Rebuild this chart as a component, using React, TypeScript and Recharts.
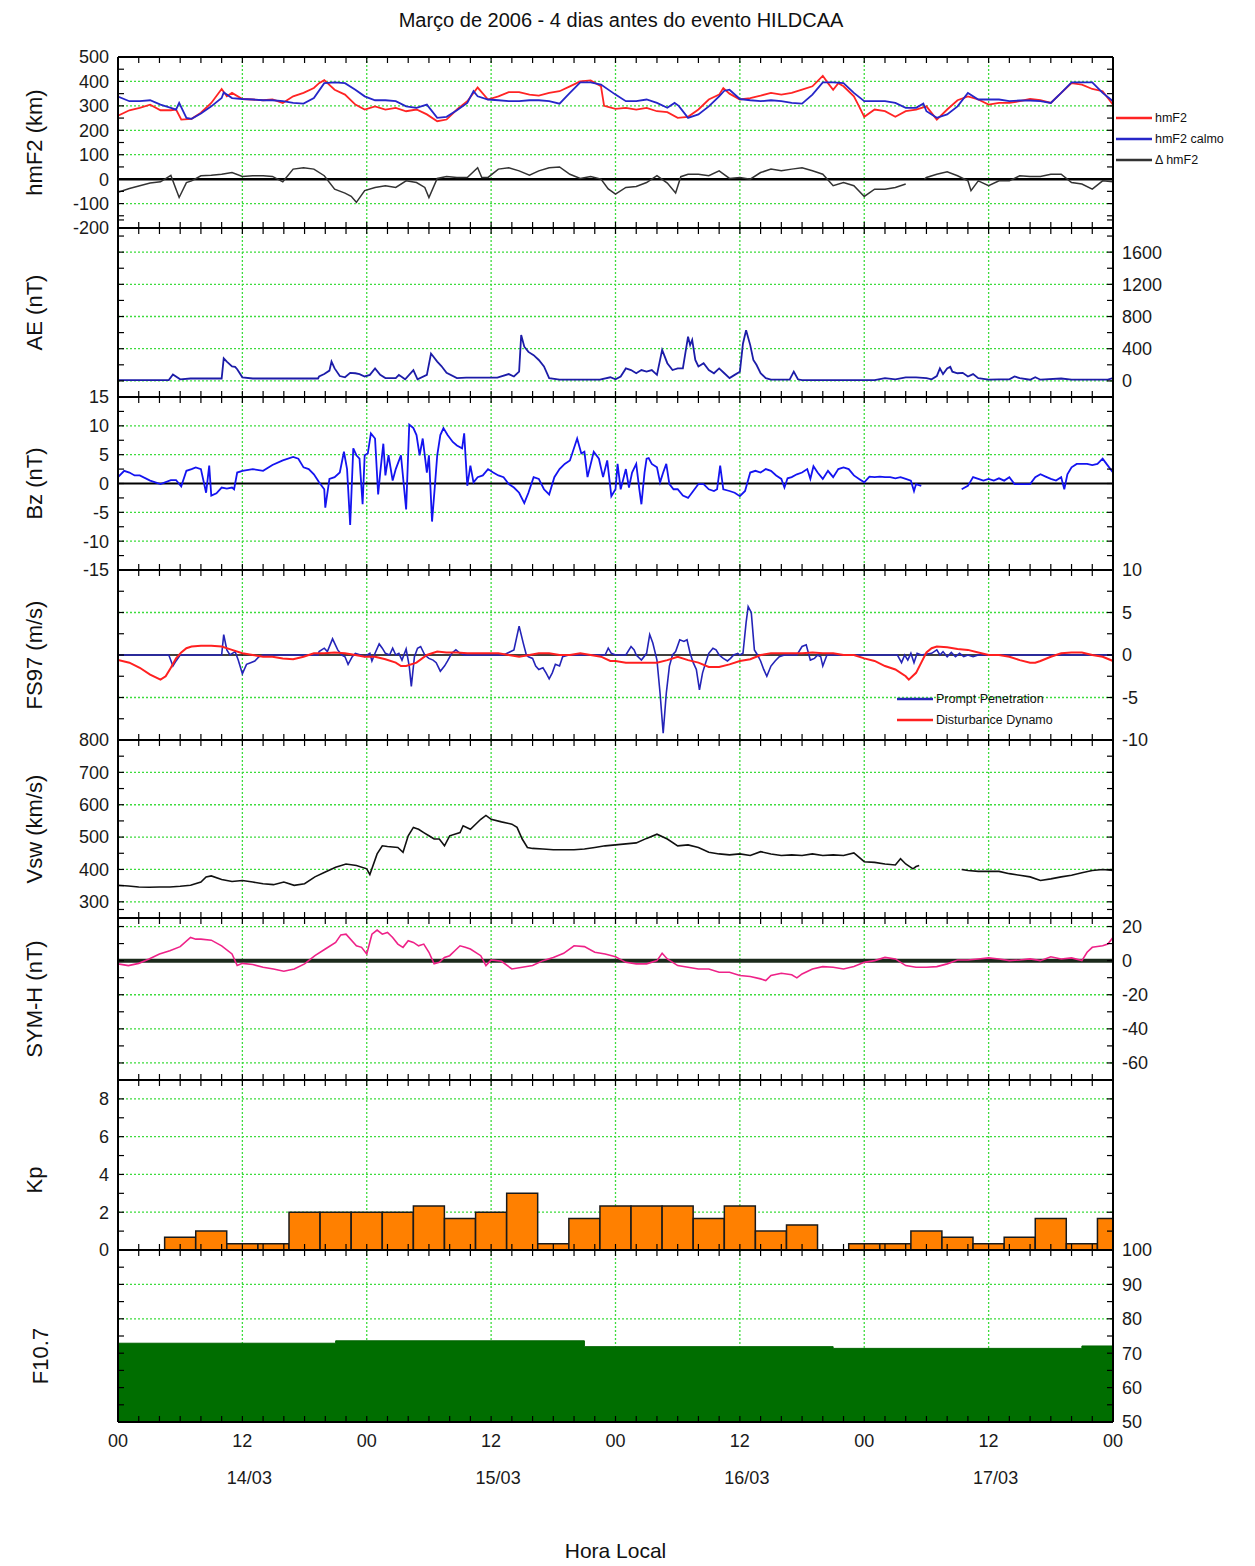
import React from "react";
import {
  ComposedChart,
  Line,
  Bar,
  Area,
  XAxis,
  YAxis,
  CartesianGrid,
  ReferenceLine,
  Legend,
} from "recharts";

const FONT = "'Liberation Sans', Arial, Helvetica, sans-serif";
const GRID_GREEN = "#3ddc3d";
const PAD = 12;
const WIDTH = 1255;

const range = (from: number, to: number, step: number) =>
  Array.from({ length: Math.round((to - from) / step) + 1 }, (_, i) =>
    +(from + i * step).toFixed(2)
  );

const zip = (hours: number[], values: (number | null)[]) =>
  hours.map((t, i) => ({ t, v: values[i] }));

// time axis (hours since 14/03 00 LT)
const HOUR_TICKS = range(0, 96, 2);
const GRID_HOURS = [12, 24, 36, 48, 60, 72, 84];
const DATE_TICKS = [12, 36, 60, 84];
const DATE_LABELS = ["14/03", "15/03", "16/03", "17/03"];

// hmF2
const hmf2Hours = [0,1.1,2.1,3.1,4.1,5.1,5.6,6.1,7.1,8, 9,10,10.5,11,12,13,14,14.9,15.9,16.9, 17.9,18.9,19.4,19.9,20.9,21.9,22.9,23.8,24.8,25.8, 26.8,27.8,28.8,29.8,30.8,31.7,32.7,33.7,34.7,35.7, 36.7,37.7,38.7,39.7,40.6,41.6,42.6,43.6,44.6,45.6, 46.6,46.9,48,49,50,51,52,53,54,55, 56,57,58,58.4,59,60,61,62,63,64, 65,66,67,68,68.5,69,69.5,70,71,71.5, 72,73,74,75,76,77,78,79,80,81, 82,83,84,85,86,87,88,89,90,91, 92,93,94,95,96];
const hmf2Values = [260,282,292,305,282,282,285,244,247,272, 312,369,339,353,328,326,323,326,312,339, 353,373,393,405,366,346,305,285,298,285, 292,278,285,265,237,244,285,319,375,326, 339,356,356,346,342,353,360,380,400,404, 380,300,288,292,285,292,278,274,251,255, 285,326,346,373,350,326,332,342,353,346, 353,366,380,423,393,366,393,380,339,298, 255,285,278,255,278,285,298,244,285,323, 339,326,305,312,312,319,328,323,312,353, 393,387,369,360,305];

const calmoHours = [0,1.1,2.1,3.1,4.1,5.1,5.6,5.9,6.6,7.1, 8,9,10,10.2,11,12,13,14,14.9,15.9, 16.9,17.9,18.9,19.9,20.9,21.9,22.9,23.8,24.8,25.8, 26.8,27.8,28.8,29.8,30.8,31.7,32.7,33.7,34.3,34.7, 35.7,36.7,37.7,38.7,39.7,40.6,41.6,42.6,43.6,44.6, 45.6,46.6,48,49,50,51,52,53,53.7,54.1, 55,56,57,58,58.5,59,60,61,62,63, 64,65,66,67,68,69,70,71,72,73, 74,75,76,77,77.7,78,79,80,81,82, 83,84,85,86,87,88,89,90,91,92, 93,94,95,96];
const calmoValues = [338,319,319,323,305,292,285,312,251,247, 269,298,332,355,332,328,326,323,323,319, 312,309,332,393,396,393,366,339,323,323, 319,298,292,305,251,255,282,312,360,339, 326,323,319,319,323,323,319,309,353,396, 396,387,346,319,319,326,312,292,312,300, 251,265,298,339,362,366,328,323,319,323, 319,312,309,346,396,396,393,353,319,319, 319,312,292,292,309,278,251,265,298,353, 326,326,326,319,322,322,319,312,353,396, 396,396,353,319];

const deltaHours = [0,1.1,2.1,3.1,4.1,5.1,5.6,5.9,6.6,7.1, 8,9,10,11,12,13,14,14.9,15.9,16.9, 17.9,18.9,19.9,20.9,21.9,22.5,23,23.8,24.8,25.8, 26.8,27.8,28.8,29.6,30,30.8,31.7,32.7,33.7,34.7, 35.1,35.7,36.7,37.7,38.7,39.7,40.6,41.6,42.6,43.6, 44.6,45.6,46.6,47.3,48,49,50,51,52,53, 53.8,54.3,55,56,57,58,59,60,61,62, 63,64,65,66,67,68,69,70,71,72, 73,74,75,76,77,77.8,78,79,80,81, 82,82.3,83,84,85,86,87,88,89,90, 91,92,93,94,95,96];
const deltaValues = [-54,-38,-27,-16,-11,15,-41,-75,-14,-7, 14,16,20,27,11,14,14,11,-11,41, 47,41,14,-41,-57,-70,-95,-47,-34,-27, -34,-7,-14,-34,-75,3,11,7,7,47, 7,7,41,47,34,16,34,47,50,20, 3,11,0,-40,-61,-34,-30,-14,14,-16, -57,10,20,20,14,34,3,7,0,27, 41,34,41,47,34,20,-27,-14,-27,-71, -41,-41,-34,-20,null,0,7,20,30,14, -7,-47,-7,-27,-7,-7,14,11,11,20, 20,-14,-20,-41,-7,-11];

// AE
const aeHours = [0,4.9,5.3,6,7,10,10.2,10.5,11,11.3, 11.5,12,13,19.3,19.4,19.9,20.4,20.6,20.9,21.4, 21.9,22.4,22.9,23.3,23.8,24.3,24.8,25.3,25.8,26.8, 27.1,27.7,28.5,28.9,29.8,30.2,30.8,31.2,31.7,32.7, 33.6,36.6,37.7,38.2,38.7,38.9,39.2,39.6,40.1,40.6, 41.1,41.6,42.6,46.5,47.5,48,48.5,49,49.5,50, 50.5,51,51.5,52,52.5,53,53.5,54,54.5,55, 55.2,55.4,55.7,56,56.5,57,57.5,58,58.5,59, 59.5,60,60.3,60.6,61,61.3,61.6,62,62.5,63, 64.8,65.2,65.6,66,73,74,75,76,77,78, 78.5,79,79.3,79.6,80,80.3,80.5,81,81.5,82, 82.5,83,84,85,86,86.5,87,88,88.5,89, 91,92,95.5,96];
const aeValues = [10,10,80,20,30,30,280,240,180,175, 145,45,30,30,55,85,128,240,155,60, 45,100,95,85,55,75,155,75,35,35, 75,20,135,20,75,340,240,185,100,35, 40,40,85,55,115,570,425,360,320,260, 180,35,15,15,45,20,55,155,135,95, 135,115,135,75,385,220,135,155,155,550, 445,510,260,180,220,135,95,155,95,35, 75,115,465,630,445,260,200,95,35,15, 15,115,20,10,10,35,20,45,45,35, 20,60,155,85,155,175,115,95,100,55, 85,35,15,20,20,55,35,15,45,15, 30,15,15,35];

// Bz
const bzHours = [0,0.6,1.1,1.6,2.1,3.1,4.1,5.1,5.6,6.1, 6.6,7.1,7.5,8,8.5,8.8,9,9.5,10,10.5, 11,11.2,11.5,12,13,14,14.9,15.9,16.9,17.4, 17.9,18.4,18.9,19.4,19.9,20,20.4,20.9,21.4,21.8, 22.1,22.4,22.7,23,23.3,23.6,23.8,24.1,24.4,24.8, 25.1,25.3,25.6,25.8,26.1,26.5,26.8,27.3,27.8,28.1, 28.5,28.8,29.1,29.4,29.8,30,30.3,30.6,30.8,31.1, 31.4,31.8,32.3,32.7,33.2,33.4,33.7,34,34.3,34.7, 35.2,35.7,36.2,36.7,37.2,37.7,38.2,38.7,39.2,39.6, 40.1,40.6,41.1,41.6,42.1,42.6,43.1,43.6,44.3,44.7, 45,45.3,45.9,46.4,46.8,47.2,47.6,48,48.2,48.5, 49,49.3,49.6,50,50.3,50.5,50.8,51,51.2,51.5, 52,52.3,52.6,52.9,53.2,53.6,54,54.5,55,55.5, 56,56.5,57,57.5,57.8,58.1,58.4,59,59.5,60, 60.5,61,61.5,62,62.5,63,63.5,64,64.3,64.6, 65,65.5,66,66.5,66.8,67.1,67.5,68,68.5,69, 69.5,70,70.5,71,71.5,72,72.5,73,73.5,74, 74.5,75,75.5,76,76.5,76.8,77,77.5,77.7,81.4, 81.7,82,82.2,82.5,83,83.5,84,84.5,85,85.5, 86,86.5,87,87.5,88,88.5,89,89.5,90,90.5, 91,91.3,91.6,92,92.5,93,93.5,94,94.5,95, 95.5,96];
const bzValues = [1.1,2.2,1.9,1.4,1.4,0.5,-0.1,0.6,0.6,-0.5, 2.2,2.5,2.8,2.5,-1.6,3.1,-2.1,-1.7,-0.7,-0.9, -0.7,-1,1.9,2.2,2.5,2.2,3.2,4,4.6,4.3, 2.8,2.5,1.6,0.2,-1,-4.2,0.8,1.1,1.9,5.5, 2.5,-7.2,6.1,4.9,4.3,-3.6,4.9,5.2,8.7,7.8, -1.9,1.9,6.9,1.4,4.9,0.5,2.5,4.9,-4.5,10.2, 9.6,8.4,4.9,7.8,1.9,4.9,-6.6,0.2,4.9,8.4, 9.6,8.4,7.2,6.6,6.1,8.7,-0.4,3.1,0.2,1.1, 1.4,2.5,1.9,1.4,1.1,-0.1,-0.7,-1.6,-3.4,-1.6, 1.1,0.8,-1,-1.9,1.1,2.5,3.4,4,7.8,5.2, 5.5,1.1,5.5,4.3,1.1,4,-2.2,-1,3.4,-1, 2.5,-0.7,1.9,3.4,-1,-3.6,1.9,4.3,4.4,3.4, 2.8,0.2,1.9,3.4,-0.1,-1,-1,-2.1,-2.5,-1.3, -0.1,-0.1,-1,-1.3,-1,3.1,-1,-1.3,-1.6,-2.2, -1.3,1.9,2.2,1.9,2.5,2.2,1.4,0.8,-0.7,0.9, 1.1,1.6,1.9,2.5,0.8,3,1.9,0.8,2.2,1.1, 2.5,2.8,2.5,1.4,0.8,0.2,1.2,1.1,1.2,1.1, 1.1,0.9,1.1,0.8,0.5,-1.3,-0.1,-0.4,null,-1, -0.7,-0.4,0.2,1.1,0.8,0.5,0.8,0.5,0.9,0.5, 1.1,-0.1,-0.1,-0.1,-0.1,1.1,1.6,1.2,0.8,0.5, 1.1,-1,1.6,2.8,3.4,3.4,3.4,3.2,3.4,4.3, 3.1,1.9];

// FS97 prompt penetration / disturbance dynamo
const ppHours = [0,4.9,5.3,5.6,6,10,10.2,10.5,10.8,11.3, 11.6,12,12.4,12.8,13.2,13.6,14,19.3,19.4,19.9, 20.2,20.7,21.2,21.6,21.9,22.2,22.6,22.9,23.4,23.8, 24.3,24.5,24.8,25.2,25.5,25.8,26.2,26.5,26.8,27.1, 27.4,27.8,28.1,28.3,28.6,28.9,29.2,29.6,30,30.4, 30.7,31.1,31.5,31.8,32.2,32.6,33,33.4,37.2,37.7, 38.2,38.7,39.1,39.4,39.6,40,40.3,40.6,41,41.3, 41.6,41.9,42.2,42.6,42.9,43.5,47,47.3,47.6,48, 49,49.5,49.8,50,50.5,51,51.3,51.6,52,52.3, 52.6,52.9,53.2,53.5,53.8,54.2,54.6,54.9,55.2,55.5, 55.8,56.1,56.4,56.7,57,57.4,57.7,58,58.4,58.8, 59.1,59.4,59.8,60,60.3,60.6,60.8,61.1,61.4,61.7, 62,62.3,62.6,63,63.4,63.8,64.3,65.5,66,66.4, 66.8,67.2,67.5,67.8,68,68.4,75.2,75.6,75.9,76.2, 76.5,76.8,77.1,77.5,78.5,79,79.3,79.6,80,80.4, 80.8,81.2,81.6,82,82.5,83,96];
const ppValues = [0,0,-1.3,-0.7,0,0,2.4,0.6,0,0.4, -0.6,-2.2,-1.1,-0.9,-0.7,-0.2,0,0,0.4,0.8, 0.4,1.9,0.6,0,-0.2,-1.1,-0.2,0.2,0,-0.2, 0.2,-0.7,0.2,1.3,0.8,0.2,0,0.8,0,0.2, -0.6,0.7,-1.3,-3.7,-0.2,0.8,1,0,-0.4,-0.6, -0.9,-1.9,-1.3,-0.7,0.2,0.6,0.2,0,0,0.3, 0.6,3.4,1.4,0,-0.2,-0.4,-1.3,-1.7,-1.5,-2.1, -2.8,-2.1,-1.1,-1.3,-0.2,0,0,0.8,0.2,0, 0,1,0.6,0,-0.6,0.2,2.4,1.4,-0.6,-4.5, -9.2,-4.5,-1.3,0,0.4,1.8,1.6,1.8,0.2,-0.9, -1.7,-4.1,-2.1,-0.9,0.2,0.8,0.6,0,-0.4,-0.7, -0.4,0,0.2,0,0.2,3.8,5.7,5,0.6,0, -0.7,-1.7,-2.5,-1.3,-0.7,-0.2,0,0,1,1.2, -0.6,-0.4,0,-0.2,-1.3,0,0,-0.9,0,-0.6, 0.2,-0.9,0.2,0,0.2,0.6,0,0.4,-0.2,0.3, -0.2,0.2,-0.2,0,-0.2,0,0];

const ddHours = [0,1.1,2.1,3.1,4.1,4.6,5.1,5.6,6.1,6.6, 7.1,8,9,10,11,12,13,14,14.9,15.9, 16.9,17.9,18.9,19.9,20.9,21.9,22.9,23.8,24.8,25.8, 26.8,27.3,27.8,28.8,29.8,30.8,31.7,32.7,33.7,34.7, 35.7,36.7,37.7,38.7,39.7,40.6,41.6,42.6,43.6,44.6, 45.6,46.6,47.5,48,49,50,51,52,53,54, 55,56,57,58,59,60,61,62,63,64, 65,66,67,68,69,70,71,72,73,74, 75,76,76.3,77,77.5,78,78.5,79,80,81, 82,83,84,85,86,87,88,88.5,89,90, 91,92,93,94,95,96];
const ddValues = [-0.6,-0.9,-1.5,-2.3,-2.9,-2.5,-1.5,-0.4,0.3,0.8, 1,1.1,1.1,1,0.6,0.2,0,-0.2,-0.2,-0.4, -0.5,-0.2,0.2,0.2,0.3,0.2,0,-0.2,-0.2,-0.5, -0.9,-1.3,-1.3,-0.9,0,0.4,0.3,0.3,0.2,0.2, 0.2,0.2,0,-0.2,0,0.2,0.2,0,0,0.2, 0,-0.2,-0.7,-0.7,-0.9,-0.9,-0.9,-0.9,-0.6,-0.2, -0.6,-0.9,-1.4,-1.4,-1.1,-0.7,-0.5,0,0.2,0.2, 0.2,0.2,0.3,0.2,0.2,0,0,-0.4,-0.7,-1.3, -1.7,-2.5,-2.9,-2.1,-0.9,0.3,0.8,1,0.9,0.7, 0.6,0.3,0,0,-0.2,-0.6,-0.9,-0.9,-0.7,-0.2, 0.2,0.3,0.3,0,-0.2,-0.7];

// Vsw
const vswHours = [0,1,2,3,4,5,6,7,8,8.5, 9,10,11,12,13,14,15,16,17,18, 19,20,21,22,23,24,24.3,25,25.5,26, 27,27.5,28,28.5,29,29.5,30,30.5,31,31.5, 32,33,33.3,34,35,35.5,36,37,38,38.5, 39,39.5,40,41,42,43,44,45,46,47, 48,49,50,51,52,53,54,55,56,57, 58,59,60,61,62,63,64,65,66,67, 68,69,70,71,72,73,74,75,75.5,76, 76.7,77,77.3,77.5,81.4,82,83,84,85,86, 87,88,89,90,91,92,93,94,95,96];
const vswValues = [351,349,346,345,346,346,348,351,361,377, 380,369,363,366,361,356,353,361,351,356, 377,392,407,417,412,402,384,448,473,471, 468,453,504,530,524,514,504,494,494,473, 504,514,535,524,555,567,555,547,540,530, 494,468,465,463,461,461,461,463,468,473, 476,479,482,496,509,494,473,476,468,453, 448,445,448,443,455,448,443,445,443,448, 443,445,443,451,424,422,417,414,433,417, 402,409,412,null,400,397,394,394,394,387, 382,377,366,371,377,382,390,397,400,397];

// SYM-H
const symHours = [0,1,2,3,4,5,6,7,7.5,8, 9,10,11,11.5,12,13,14,15,16,17, 18,19,20,21,21.5,22,23,23.5,24,24.5, 25,25.5,26,26.5,27,27.5,28,28.5,29,29.5, 30,30.5,31,31.5,32,32.5,33,33.5,34,35, 35.5,36,37,38,39,40,41,42,43,44, 45,46,47,48,49,50,51,52,52.5,53, 54,55,56,57,58,59,60,61,62,62.5, 63,64,65,65.5,66,67,68,69,70,71, 72,73,74,75,76,77,78,79,80,81, 82,83,84,85,86,87,88,89,90,91, 92,93,93.5,94,95,95.5,96];
const symValues = [-1.9,-2.9,-1.6,1,3.9,5.8,8.2,13.6,12.6,12.6, 12,8.7,3.9,-2.9,-1.6,-2.3,-3.9,-4.9,-6.2,-4.9, -1.9,2.9,6.8,10.7,15.1,15.5,8.7,7.8,3.9,15.5, 17.9,15.5,16.5,13.6,9.7,7.8,11.7,10.7,8.7,9.7, 4.9,-1.9,-1,1.9,2.9,5.8,8.7,7.8,6.8,2.9, -2.9,0.4,-0.4,-4.9,-3.9,-2.9,0,1.9,4.3,8.7, 8.2,4.9,3.9,2.3,-1,-1.9,-1.9,0,4.3,1, -2.9,-3.9,-4.9,-4.9,-6.8,-6.8,-8.7,-9.3,-10.7,-11.7, -8.7,-7.4,-8.3,-10.1,-7.8,-4.9,-3.5,-3.9,-4.9,-3.5, -1,0,1.9,1,-2.9,-3.9,-3.9,-3.5,-1.9,0.4, 0.4,1,1.6,1,0,0.4,1,0,2.3,1, 1.6,0,4.9,7.8,8.7,9.7,13.6];

// Kp (3-hour values, centred on each 3 h mark)
const kpHours = [6,9,12,15,18,21,24,27,30,33,36,39,42,45,48,51,54,57,60,63,66,69,72,75,78,81,84,87,90,93,96];
const kpValues = [0.67,1,0.33,0.33,2,2,2,2,2.33,1.67,2,3,0.33,1.67,2.33,2.33,2.33,1.67,2.33,1,1.33,0,0.33,0.33,1,0.67,0.33,0.67,1.67,0.33,1.67];

// F10.7 (daily)
const f107Hours = [0, 21, 45, 69, 93, 96];
const f107Values = [72.9, 73.6, 71.9, 71.4, 72.1, 72.1];

const hmf2Data = zip(hmf2Hours, hmf2Values);
const calmoData = zip(calmoHours, calmoValues);
const deltaData = zip(deltaHours, deltaValues);
const aeData = zip(aeHours, aeValues);
const bzData = zip(bzHours, bzValues);
const ppData = zip(ppHours, ppValues);
const ddData = zip(ddHours, ddValues);
const vswData = zip(vswHours, vswValues);
const symData = zip(symHours, symValues);
const kpData = zip(kpHours, kpValues);
const f107Data = zip(f107Hours, f107Values);

const PanelTitle = ({ viewBox, text, x, dy }: any) => {
  const vb = viewBox || { y: 0, height: 0 };
  const y = vb.y + vb.height / 2 + dy;
  return (
    <text
      x={x}
      y={y}
      transform={`rotate(-90 ${x} ${y})`}
      textAnchor="middle"
      dominantBaseline="central"
      fontSize={22}
      fontFamily={FONT}
      fill="#111"
    >
      {text}
    </text>
  );
};

const HourTick = ({ x, y, payload }: any) => {
  const t = payload.value;
  const hour = t % 24 === 0 ? "00" : t % 24 === 12 ? "12" : "";
  const d = DATE_TICKS.indexOf(t);
  return (
    <g fontFamily={FONT} fill="#1a1a1a">
      {hour && (
        <text x={x} y={y} dy="0.71em" textAnchor="middle" fontSize={18}>
          {hour}
        </text>
      )}
      {d >= 0 && (
        <text x={x + 7} y={y + 37} dy="0.71em" textAnchor="middle" fontSize={18}>
          {DATE_LABELS[d]}
        </text>
      )}
    </g>
  );
};

// keeps the legend in the order of the series list
const LegendList = ({ payload, order }: any) => {
  const items = [...(payload || [])].sort(
    (a: any, b: any) => order.indexOf(a.value) - order.indexOf(b.value)
  );
  return (
    <div style={{ fontFamily: FONT, fontSize: 12.5, color: "#111" }}>
      {items.map((item: any) => (
        <div
          key={item.value}
          style={{ display: "flex", alignItems: "center", height: 21, whiteSpace: "nowrap" }}
        >
          <svg width={36} height={6}>
            <line x1={0} y1={3} x2={36} y2={3} stroke={item.color} strokeWidth={2.5} />
          </svg>
          <span style={{ marginLeft: 3 }}>{item.value}</span>
        </div>
      ))}
    </div>
  );
};

type PanelProps = {
  top: number;
  bottom: number;
  domain: [number, number];
  step: number;
  leftLabels?: number[];
  rightLabels?: number[];
  grid: number[];
  title: string;
  titleDy?: number;
  titleX?: number;
  data?: any[];
  last?: boolean;
  children?: React.ReactNode;
};

const frame = { stroke: "#000", strokeWidth: 2 };
const tickStroke = { stroke: "#000", strokeWidth: 1.2 };
const tickText = { fill: "#1a1a1a", fontSize: 18, fontFamily: FONT };
const noLabel = () => "";

const Panel = ({
  top,
  bottom,
  domain,
  step,
  leftLabels = [],
  rightLabels = [],
  grid,
  title,
  titleDy = 0,
  titleX = 34,
  data,
  last = false,
  children,
}: PanelProps) => {
  // a 1px axis band on top and bottom (an axis of height 0 is not drawn)
  const axisH = last ? 144 : 1;
  const height = bottom - top + PAD + (last ? axisH : PAD);
  const ticks = range(domain[0], domain[1], step);
  return (
    <div style={{ position: "absolute", left: 0, top: top - PAD, width: WIDTH, height }}>
      <ComposedChart
        width={WIDTH}
        height={height}
        data={data}
        margin={{ top: PAD - 1, right: 0, bottom: last ? 0 : PAD - 1, left: 0 }}
        style={{ fontFamily: FONT }}
      >
        <CartesianGrid
          stroke={GRID_GREEN}
          strokeDasharray="2 2"
          strokeWidth={1.3}
          verticalValues={GRID_HOURS}
          horizontalValues={grid}
        />
        <XAxis
          type="number"
          dataKey="t"
          domain={[0, 96]}
          allowDataOverflow
          ticks={HOUR_TICKS}
          interval={0}
          height={axisH}
          tickSize={-6}
          tickMargin={18}
          axisLine={frame}
          tickLine={tickStroke}
          tick={last ? (p: any) => <HourTick {...p} /> : tickText}
          tickFormatter={last ? undefined : noLabel}
          label={
            last
              ? {
                  content: (p: any) => (
                    <text
                      x={p.viewBox.x + p.viewBox.width / 2}
                      y={p.viewBox.y + p.viewBox.height - 8}
                      textAnchor="middle"
                      fontSize={21}
                      fontFamily={FONT}
                      fill="#111"
                    >
                      Hora Local
                    </text>
                  ),
                }
              : undefined
          }
        />
        <XAxis
          xAxisId="top"
          orientation="top"
          type="number"
          dataKey="t"
          domain={[0, 96]}
          allowDataOverflow
          ticks={HOUR_TICKS}
          interval={0}
          height={1}
          tickSize={-6}
          axisLine={frame}
          tickLine={tickStroke}
          tick={tickText}
          tickFormatter={noLabel}
        />
        <YAxis
          type="number"
          domain={domain}
          allowDataOverflow
          ticks={ticks}
          interval={0}
          width={118}
          tickSize={-6}
          tickMargin={15}
          axisLine={frame}
          tickLine={tickStroke}
          tick={tickText}
          tickFormatter={(v: number) => (leftLabels.includes(v) ? String(v) : "")}
          label={{
            content: (p: any) => (
              <PanelTitle viewBox={p.viewBox} text={title} x={titleX} dy={titleDy} />
            ),
          }}
        />
        <YAxis
          yAxisId="r"
          orientation="right"
          type="number"
          domain={domain}
          allowDataOverflow
          ticks={ticks}
          interval={0}
          width={142}
          tickSize={-6}
          tickMargin={15}
          axisLine={frame}
          tickLine={tickStroke}
          tick={tickText}
          tickFormatter={(v: number) => (rightLabels.includes(v) ? String(v) : "")}
        />
        {children}
      </ComposedChart>
    </div>
  );
};

const lineProps = {
  dataKey: "v",
  type: "linear" as const,
  dot: false,
  activeDot: false,
  isAnimationActive: false,
  connectNulls: false,
};

export default function App() {
  return (
    <div
      style={{
        position: "absolute",
        left: 0,
        top: 0,
        width: 1255,
        height: 1566,
        background: "#fff",
        fontFamily: FONT,
      }}
    >
      <div
        style={{
          position: "absolute",
          left: 0,
          top: 8,
          width: 1242,
          textAlign: "center",
          fontSize: 20,
          lineHeight: "24px",
          color: "#111",
        }}
      >
        Março de 2006 - 4 dias antes do evento HILDCAA
      </div>

      <Panel
        top={57}
        bottom={228}
        domain={[-200, 500]}
        step={50}
        leftLabels={[-200, -100, 0, 100, 200, 300, 400, 500]}
        grid={[-100, 100, 200, 300, 400]}
        title="hmF2 (km)"
      >
        <ReferenceLine y={0} stroke="#000" strokeWidth={2.5} />
        <Line {...lineProps} data={hmf2Data} name="hmF2" stroke="#ff2424" strokeWidth={1.8} />
        <Line {...lineProps} data={calmoData} name="hmF2 calmo" stroke="#2626c8" strokeWidth={1.8} />
        <Line {...lineProps} data={deltaData} name="Δ hmF2" stroke="#333" strokeWidth={1.5} />
        <Legend
          layout="vertical"
          align="center"
          verticalAlign="middle"
          wrapperStyle={{ left: 1116, top: 62, width: 140 }}
          content={<LegendList order={["hmF2", "hmF2 calmo", "Δ hmF2"]} />}
        />
      </Panel>

      <Panel
        top={228}
        bottom={397}
        domain={[-200, 1900]}
        step={200}
        rightLabels={[0, 400, 800, 1200, 1600]}
        grid={[0, 400, 800, 1200, 1600]}
        title="AE (nT)"
      >
        <Line {...lineProps} data={aeData} name="AE" stroke="#1c1ca8" strokeWidth={1.8} />
      </Panel>

      <Panel
        top={397}
        bottom={570}
        domain={[-15, 15]}
        step={2.5}
        leftLabels={[-15, -10, -5, 0, 5, 10, 15]}
        grid={[-10, -5, 5, 10]}
        title="Bz (nT)"
      >
        <ReferenceLine y={0} stroke="#000" strokeWidth={1.8} />
        <Line {...lineProps} data={bzData} name="Bz" stroke="#1414f0" strokeWidth={1.8} />
      </Panel>

      <Panel
        top={570}
        bottom={740}
        domain={[-10, 10]}
        step={2.5}
        rightLabels={[-10, -5, 0, 5, 10]}
        grid={[-5, 5]}
        title="FS97 (m/s)"
      >
        <ReferenceLine y={0} stroke="#000" strokeWidth={1.5} />
        <Line {...lineProps} data={ppData} name="Prompt Penetration" stroke="#2424b8" strokeWidth={1.6} />
        <Line {...lineProps} data={ddData} name="Disturbance Dynamo" stroke="#ff2020" strokeWidth={2} />
        <Legend
          layout="vertical"
          align="center"
          verticalAlign="middle"
          wrapperStyle={{ left: 897, top: 130, width: 200 }}
          content={<LegendList order={["Prompt Penetration", "Disturbance Dynamo"]} />}
        />
      </Panel>

      <Panel
        top={740}
        bottom={918}
        domain={[250, 800]}
        step={50}
        leftLabels={[300, 400, 500, 600, 700, 800]}
        grid={[300, 400, 500, 600, 700]}
        title="Vsw (km/s)"
      >
        <Line {...lineProps} data={vswData} name="Vsw" stroke="#111" strokeWidth={1.6} />
      </Panel>

      <Panel
        top={918}
        bottom={1080}
        domain={[-70, 25]}
        step={10}
        rightLabels={[-60, -40, -20, 0, 20]}
        grid={[-60, -40, -20, 20]}
        title="SYM-H (nT)"
      >
        <ReferenceLine y={0} stroke="#1b2a1b" strokeWidth={4} />
        <Line {...lineProps} data={symData} name="SYM-H" stroke="#ee2288" strokeWidth={1.6} />
      </Panel>

      <Panel
        top={1080}
        bottom={1250}
        domain={[0, 9]}
        step={1}
        leftLabels={[0, 2, 4, 6, 8]}
        grid={[2, 4, 6, 8]}
        title="Kp"
        titleDy={15}
        data={kpData}
      >
        <Bar
          dataKey="v"
          name="Kp"
          fill="#ff8000"
          stroke="#1a1a1a"
          strokeWidth={1.5}
          barSize={31}
          isAnimationActive={false}
        />
      </Panel>

      <Panel
        top={1250}
        bottom={1422}
        domain={[50, 100]}
        step={5}
        rightLabels={[50, 60, 70, 80, 90, 100]}
        grid={[60, 70, 80, 90]}
        title="F10.7"
        titleDy={20}
        titleX={40}
        data={f107Data}
        last
      >
        <Area
          type="stepAfter"
          dataKey="v"
          name="F10.7"
          stroke="#006400"
          fill="#006e00"
          fillOpacity={1}
          isAnimationActive={false}
        />
      </Panel>
    </div>
  );
}
